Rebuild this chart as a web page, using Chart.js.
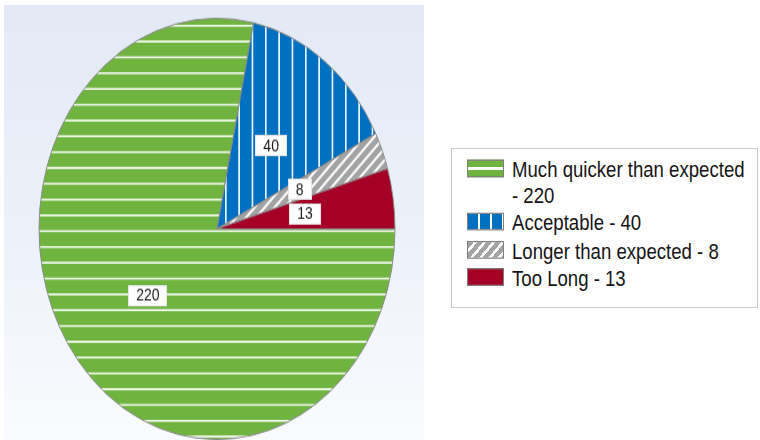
<!DOCTYPE html>
<html><head><meta charset="utf-8">
<script src="https://cdn.jsdelivr.net/npm/chart.js@4.4.1/dist/chart.umd.min.js"></script>
<style>
html,body{margin:0;padding:0;background:#fff;width:760px;height:440px;overflow:hidden;font-family:"Liberation Sans",Arial,sans-serif;}
#panel{position:absolute;left:4px;top:5px;width:420px;height:435px;background:linear-gradient(to bottom,#e3eaf5 0%,#edf1f9 55%,#fafbfe 100%);}
#pie{position:absolute;left:0;top:0;}
#legend{position:absolute;left:451px;top:148px;width:305px;height:158px;border:1px solid #c9c9c9;background:#fff;}
#legend .inner{transform:scaleY(1.18);transform-origin:0 0;padding:7px 0 0 15px;}
.item{display:flex;align-items:flex-start;margin-bottom:2px;}
.sw{width:37px;height:15px;box-sizing:border-box;border:1px solid #7f7f7f;margin-top:2px;flex:none;}
.tx{margin-left:8px;width:236px;font-size:18.6px;line-height:21.5px;color:#141414;}
</style></head>
<body>
<div id="panel"></div>
<canvas id="pie" width="430" height="372" style="width:430px;height:440px;"></canvas>
<div id="legend"><div class="inner" id="legendInner"></div></div>
<script>
const categories = ['Much quicker than expected', 'Acceptable', 'Longer than expected', 'Too Long'];
const values = [220, 40, 8, 13];
const sliceColors = ['#6fb43f', '#0070c0', '#a3a3a3', '#a50026'];
const patternKinds = ['hlines', 'vlines', 'diag', 'solid'];

const canvas = document.getElementById('pie');
const ctx0 = canvas.getContext('2d');

function makePattern(kind, color) {
  if (kind === 'solid') return color;
  const c = document.createElement('canvas');
  const x = c.getContext('2d');
  let m = null;
  if (kind === 'hlines') {
    c.width = 8; c.height = 16;
    x.fillStyle = color; x.fillRect(0, 0, 8, 16);
    x.fillStyle = 'rgba(255,255,255,0.92)'; x.fillRect(0, 9, 8, 2);
    m = new DOMMatrix().scale(1, 13.36 / 16);
  } else if (kind === 'vlines') {
    c.width = 16; c.height = 8;
    x.fillStyle = color; x.fillRect(0, 0, 16, 8);
    x.fillStyle = 'rgba(255,255,255,0.92)'; x.fillRect(14, 0, 2, 8);
    m = new DOMMatrix().scale(13.33 / 16, 1);
  } else if (kind === 'diag') {
    c.width = 10; c.height = 10;
    x.fillStyle = color; x.fillRect(0, 0, 10, 10);
    x.strokeStyle = 'rgba(255,255,255,0.95)'; x.lineWidth = 2.2;
    x.beginPath();
    x.moveTo(-2, 12); x.lineTo(12, -2);
    x.moveTo(-7, 7); x.lineTo(7, -7);
    x.moveTo(3, 17); x.lineTo(17, 3);
    x.stroke();
  }
  const p = ctx0.createPattern(c, 'repeat');
  if (m) p.setTransform(m);
  return p;
}

const fills = sliceColors.map((c, i) => makePattern(patternKinds[i], c));

const labelPlugin = {
  id: 'sliceLabels',
  afterDatasetsDraw(chart) {
    const ctx = chart.ctx;
    const meta = chart.getDatasetMeta(0);
    ctx.save();
    ctx.font = '14px "Liberation Sans", Arial, sans-serif';
    ctx.textAlign = 'center';
    ctx.textBaseline = 'middle';
    meta.data.forEach((arc, i) => {
      const p = arc.tooltipPosition();
      const t = String(values[i]);
      const w = Math.round(ctx.measureText(t).width + 16);
      const h = 18;
      const bx = Math.round(p.x - w / 2), by = Math.round(p.y - h / 2);
      ctx.fillStyle = '#ffffff';
      ctx.fillRect(bx, by, w, h);
      ctx.strokeStyle = 'rgba(0,0,0,0.10)';
      ctx.lineWidth = 1;
      ctx.strokeRect(bx + 0.5, by + 0.5, w - 1, h - 1);
      ctx.fillStyle = '#1a1a1a';
      ctx.fillText(t, p.x, p.y + 1);
    });
    ctx.restore();
  }
};

new Chart(canvas, {
  type: 'pie',
  data: {
    labels: categories,
    datasets: [{
      data: values,
      backgroundColor: fills,
      borderColor: '#8a8a8a',
      borderWidth: 1
    }]
  },
  options: {
    responsive: false,
    devicePixelRatio: 1,
    animation: false,
    events: [],
    rotation: 90,
    radius: 178,
    layout: { padding: { left: 37, right: 33, top: 16, bottom: 1 } },
    plugins: { legend: { display: false }, tooltip: { enabled: false } }
  },
  plugins: [labelPlugin]
});

const swatchCss = [
  'background:linear-gradient(to bottom, transparent 42%, #fff 42%, #fff 58%, transparent 58%), ' + sliceColors[0] + ';',
  'background:repeating-linear-gradient(to right, ' + sliceColors[1] + ' 0 10px, #fff 10px 12px);',
  'background:repeating-linear-gradient(135deg, ' + sliceColors[2] + ' 0 4px, #fff 4px 6.5px);',
  'background:' + sliceColors[3] + ';'
];
const inner = document.getElementById('legendInner');
categories.forEach((cat, i) => {
  const item = document.createElement('div');
  item.className = 'item';
  const sw = document.createElement('div');
  sw.className = 'sw';
  sw.style.cssText = swatchCss[i];
  const tx = document.createElement('div');
  tx.className = 'tx';
  tx.textContent = cat + ' - ' + values[i];
  item.appendChild(sw);
  item.appendChild(tx);
  inner.appendChild(item);
});
</script>
</body></html>
